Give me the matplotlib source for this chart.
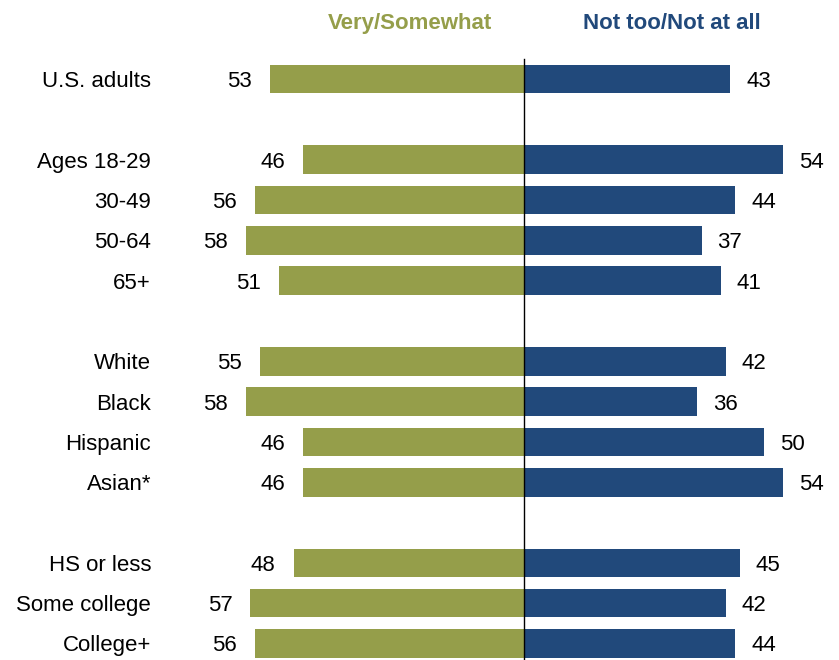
import matplotlib
matplotlib.use("Agg")
import matplotlib.pyplot as plt

categories = ["U.S. adults", "Ages 18-29", "30-49", "50-64", "65+",
              "White", "Black", "Hispanic", "Asian*",
              "HS or less", "Some college", "College+"]
rows = [0, 2, 3, 4, 5, 7, 8, 9, 10, 12, 13, 14]
very_somewhat = [53, 46, 56, 58, 51, 55, 58, 46, 46, 48, 57, 56]
not_too = [43, 54, 44, 37, 41, 42, 36, 50, 54, 45, 42, 44]
series_names = ["Very/Somewhat", "Not too/Not at all"]

GREEN = "#959e4a"
BLUE = "#21497b"
FONT = ["Liberation Sans", "DejaVu Sans"]

fig = plt.figure(figsize=(8.39, 6.60), dpi=100)
ax = fig.add_axes([0, 0, 1, 1])
scale = 4.8  # px per unit
ax.set_xlim(-524 / scale, (839 - 524) / scale)
ax.set_ylim((660 - 79) / 40.32, -79 / 40.32)
ax.axis("off")

bh = 0.71
ax.barh(rows, [-v for v in very_somewhat], height=bh, color=GREEN, edgecolor="none")
ax.barh(rows, not_too, height=bh, color=BLUE, edgecolor="none")
ax.plot([0, 0], [-0.5, 15], color="black", lw=1.0, zorder=5)

for r, c, v, n in zip(rows, categories, very_somewhat, not_too):
    ax.text((151 - 524) / scale, r, c, ha="right", va="center_baseline",
            fontsize=16, family=FONT, color="black")
    ax.text(-v - 18 / scale, r, str(v), ha="right", va="center_baseline",
            fontsize=16, family=FONT, color="black")
    ax.text(n + 16 / scale, r, str(n), ha="left", va="center_baseline",
            fontsize=16, family=FONT, color="black")

ax.text((410 - 524) / scale, (29 - 79) / 40.32, series_names[0], ha="center",
        va="baseline", fontsize=16, fontweight="bold", family=FONT, color=GREEN)
ax.text((672 - 524) / scale, (29 - 79) / 40.32, series_names[1], ha="center",
        va="baseline", fontsize=16, fontweight="bold", family=FONT, color=BLUE)

fig.savefig("out.png", dpi=100)
